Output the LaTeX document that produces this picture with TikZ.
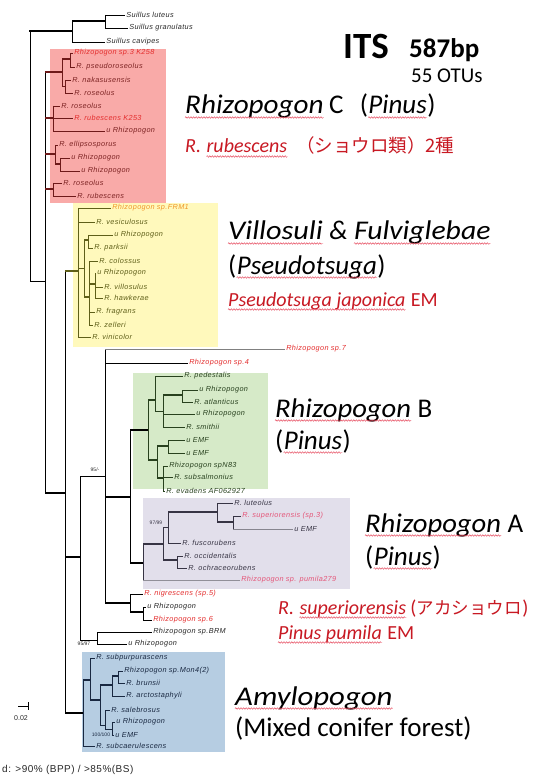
\documentclass[tikz,border=0pt]{standalone}
\usepackage{fontspec}
\usepackage{graphicx}
\setmainfont{Carlito}
\setsansfont{Liberation Sans}
\newfontfamily\jpfont{Noto Sans CJK JP}
\newfontfamily\leaffamily{Liberation Sans}[LetterSpace=5]
\usetikzlibrary{calc,decorations.pathmorphing}
\definecolor{pkfill}{RGB}{249,170,168}
\definecolor{ylfill}{RGB}{255,249,188}
\definecolor{grfill}{RGB}{214,234,200}
\definecolor{lvfill}{RGB}{226,223,235}
\definecolor{blfill}{RGB}{182,205,226}
\definecolor{pkline}{RGB}{110,25,25}
\definecolor{pktext}{RGB}{125,35,35}
\definecolor{redlab}{RGB}{228,45,45}
\definecolor{yline}{RGB}{95,95,25}
\definecolor{orlab}{RGB}{240,150,40}
\definecolor{gline}{RGB}{40,65,30}
\definecolor{aline}{RGB}{55,52,68}
\definecolor{pinklab}{RGB}{228,85,120}
\definecolor{bline}{RGB}{25,40,65}
\definecolor{bigred}{RGB}{200,25,35}
\definecolor{wavered}{RGB}{230,70,90}
\definecolor{darkt}{RGB}{40,40,40}
\newcommand\lfont{\fontsize{7.3}{8}\selectfont\leaffamily\itshape}
\newcommand\leaf[5][]{\draw[br] (#2,#3) -- (#4,#3) node[lab,#1]{#5};}
\newcommand\wave[1]{\draw[wav] ($(#1.base west)+(0,3.5)$) -- ($(#1.base east)+(0,3.5)$);}
\newcommand\wi[2]{\scalebox{#1}[1]{\itshape #2}}
\tikzset{
  br/.style={line width=0.7pt},
  thk/.style={line width=2.8pt},
  lab/.style={font=\lfont, inner sep=1pt, anchor=west},
  sup/.style={font=\fontsize{5}{6}\selectfont\sffamily, inner sep=0.5pt},
  big/.style={font=\fontsize{27}{30}\selectfont, anchor=base west, inner sep=0pt, text=black},
  redl/.style={font=\fontsize{20}{22}\selectfont, anchor=base west, inner sep=0pt, text=bigred},
  wav/.style={draw=wavered, line width=0.45pt, decorate, decoration={snake, amplitude=0.8pt, segment length=2.6pt}},
}
\begin{document}
\begin{tikzpicture}[x=1pt,y=-1pt]
\useasboundingbox (0,0) rectangle (533,775);
\fill[white] (0,0) rectangle (533,775);
% clade boxes
\fill[pkfill] (50,49) rectangle (166,203);
\fill[ylfill] (73,203) rectangle (218,347);
\fill[grfill] (133,373) rectangle (268,489);
\fill[lvfill] (143,498) rectangle (350,589);
\fill[blfill] (82,652) rectangle (225,752);

% root and Suillus
\begin{scope}[draw=black, text=darkt]
\draw[br] (30,31) -- (30,281);
\draw[thk] (29,31) -- (72,31);
\draw[br] (72,21) -- (72,42);
\draw[thk] (72,21) -- (105,21);
\draw[br] (105,15) -- (105,28);
\leaf{105}{15}{125}{Suillus luteus}
\leaf{105}{28}{128}{Suillus granulatus}
\leaf{72}{42}{105}{Suillus cavipes}
\draw[br] (30,281) -- (45,281);
\draw[br] (45,72) -- (45,493);
\draw[thk] (45,493) -- (65,493);
\draw[br] (65,271) -- (65,713);
\draw[thk] (65,557) -- (80,557);
\draw[br] (80,476) -- (80,640);
\draw[br] (80,476) -- (105,476);
\node[sup] at (95,470) {95/-};
\draw[br] (105,349) -- (105,603);
\leaf[text=redlab]{105}{363}{188}{Rhizopogon sp.4}
\draw[br,draw=gray] (105,349) -- (285,349) node[lab,text=redlab]{Rhizopogon sp.7};
\draw[thk] (105,497) -- (130,497);
\draw[br] (130,430) -- (130,563);
\draw[thk] (130,430) -- (148,430);
\draw[thk] (130,563) -- (143,563);
% sp5 clade
\draw[thk] (105,603) -- (130,603);
\draw[br] (130,594) -- (130,612);
\leaf[text=redlab]{130}{594}{143}{R. nigrescens (sp.5)}
\draw[thk] (130,612) -- (143,612);
\draw[br] (143,607) -- (143,620);
\leaf{143}{607}{146}{u Rhizopogon}
\leaf[text=redlab]{143}{620}{152}{Rhizopogon sp.6}
% BRM
\draw[br] (80,640) -- (97,640);
\draw[br] (97,632) -- (97,644);
\leaf{97}{632}{152}{Rhizopogon sp.BRM}
\leaf{97}{644}{127}{u Rhizopogon}
\node[sup] at (84,644) {95/97};
\draw[thk] (65,713) -- (83,713);
\end{scope}

% Rhizopogon C (pink)
\begin{scope}[draw=pkline, text=pktext]
\draw[thk] (45,72) -- (62,72);
\draw[br] (62,59) -- (62,86);
\draw[thk] (62,59) -- (70,59);
\draw[br] (70,53) -- (70,67);
\leaf[text=redlab]{70}{53}{73}{Rhizopogon sp.3 K258}
\leaf{70}{67}{75}{R. pseudoroseolus}
\draw[br] (62,86) -- (65,86);
\draw[br] (65,80) -- (65,93);
\leaf{65}{80}{71}{R. nakasusensis}
\leaf{65}{93}{73}{R. roseolus}
\draw[thk] (45,118) -- (53,118);
\draw[br] (53,106) -- (53,131);
\leaf{53}{106}{60}{R. roseolus}
\leaf[text=redlab]{53}{118}{73}{R. rubescens K253}
\leaf{53}{131}{105}{u Rhizopogon}
\draw[thk] (45,154) -- (55,154);
\draw[br] (55,145) -- (55,164);
\leaf{55}{145}{58}{R. ellipsosporus}
\draw[thk] (55,164) -- (60,164);
\draw[br] (60,158) -- (60,171);
\leaf{60}{158}{70}{u Rhizopogon}
\leaf{60}{171}{80}{u Rhizopogon}
\draw[thk] (45,189) -- (53,189);
\draw[br] (53,183) -- (53,196);
\leaf{53}{183}{62}{R. roseolus}
\leaf{53}{196}{76}{R. rubescens}
\end{scope}

% Villosuli (yellow)
\begin{scope}[draw=yline, text=yline]
\draw[thk] (65,271) -- (78,271);
\draw[br] (78,208) -- (78,337);
\leaf[text=orlab]{78}{208}{111}{Rhizopogon sp.FRM1}
\leaf{78}{222}{95}{R. vesiculosus}
\draw[br] (78,268) -- (84,268);
\draw[br] (84,240) -- (84,297);
\draw[thk] (84,240) -- (88,240);
\draw[br] (88,235) -- (88,248);
\leaf{88}{235}{113}{u Rhizopogon}
\leaf{88}{248}{93}{R. parksii}
\draw[thk] (84,297) -- (89,297);
\draw[br] (89,261) -- (89,325);
\leaf{89}{261}{98}{R. colossus}
\draw[thk] (89,284) -- (95,284);
\draw[br] (95,273) -- (95,298);
\leaf{95}{273}{96}{u Rhizopogon}
\leaf{95}{287}{103}{R. villosulus}
\leaf{95}{298}{103}{R. hawkerae}
\leaf{89}{312}{95}{R. fragrans}
\leaf{89}{325}{93}{R. zelleri}
\leaf{78}{337}{91}{R. vinicolor}
\end{scope}

% Rhizopogon B (green)
\begin{scope}[draw=gline, text=gline]
\draw[br] (148,400) -- (148,460);
\draw[thk] (148,400) -- (155,400);
\draw[br] (155,376) -- (155,411);
\leaf{155}{376}{183}{R. pedestalis}
\draw[br] (155,411) -- (163,411);
\draw[br] (163,395) -- (163,427);
\draw[thk] (163,395) -- (182,395);
\draw[br] (182,390) -- (182,402);
\leaf{182}{390}{198}{u Rhizopogon}
\leaf{182}{402}{193}{R. atlanticus}
\leaf{163}{414}{195}{u Rhizopogon}
\leaf{163}{427}{185}{R. smithii}
\draw[thk] (148,460) -- (157,460);
\draw[br] (157,446) -- (157,478);
\draw[thk] (157,446) -- (168,446);
\draw[br] (168,440) -- (168,453);
\leaf{168}{440}{185}{u EMF}
\leaf{168}{453}{185}{u EMF}
\draw[thk] (157,478) -- (163,478);
\draw[br] (163,466) -- (163,491);
\leaf{163}{466}{168}{Rhizopogon spN83}
\leaf{163}{477}{173}{R. subsalmonius}
\leaf{163}{491}{165}{R. evadens AF062927}
\end{scope}

% Rhizopogon A (lavender)
\begin{scope}[draw=aline, text=aline]
\draw[br] (143,544) -- (143,580);
\draw[thk] (143,544) -- (163,544);
\draw[br] (163,527) -- (163,560);
\draw[br] (163,527) -- (168,527);
\draw[br] (168,512) -- (168,543);
\node[sup] at (156,523) {97/99};
\draw[thk] (168,512) -- (217,512);
\draw[br] (217,503) -- (217,522);
\leaf{217}{503}{233}{R. luteolus}
\draw[thk] (217,522) -- (233,522);
\draw[br] (233,516) -- (233,529);
\leaf[text=pinklab]{233}{516}{241}{R. superiorensis (sp.3)}
\draw[br,draw=aline!60] (233,529) -- (293,529) node[lab]{u EMF};
\leaf{168}{543}{181}{R. fuscorubens}
\draw[thk] (163,560) -- (177,560);
\draw[br] (177,556) -- (177,568);
\leaf{177}{556}{183}{R. occidentalis}
\leaf{177}{568}{187}{R. ochraceorubens}
\draw[br,draw=aline!55] (143,580) -- (240,580) node[lab,text=pinklab]{Rhizopogon sp. pumila279};
\end{scope}

% Amylopogon (blue)
\begin{scope}[draw=bline, text=bline]
\draw[br] (83,680) -- (83,746);
\draw[thk] (83,680) -- (90,680);
\draw[br] (90,658) -- (90,700);
\leaf{90}{658}{95}{R. subpurpurascens}
\draw[thk] (90,700) -- (100,700);
\draw[br] (100,685) -- (100,725);
\draw[thk] (100,685) -- (112,685);
\draw[br] (112,676) -- (112,696);
\draw[thk] (112,676) -- (118,676);
\draw[br] (118,671) -- (118,683);
\leaf{118}{671}{123}{Rhizopogon sp.Mon4(2)}
\leaf{118}{683}{125}{R. brunsii}
\leaf{112}{696}{125}{R. arctostaphyli}
\draw[br] (100,725) -- (105,725);
\draw[br] (105,710) -- (105,729);
\leaf{105}{710}{110}{R. salebrosus}
\draw[br] (105,729) -- (112,729);
\draw[br] (112,722) -- (112,735);
\leaf{112}{722}{115}{u Rhizopogon}
\leaf{112}{735}{114}{u EMF}
\node[sup] at (101,735) {100/100};
\leaf{83}{746}{95}{R. subcaerulescens}
\end{scope}

% scale bar and legend
\draw[br] (18,706) -- (28,706);
\draw[br] (28,702) -- (28,710);
\node[font=\fontsize{7}{8}\selectfont\sffamily, anchor=east, inner sep=0pt, text=darkt] (sc) at (28,718) {0.02};
\node[font=\fontsize{10}{11}\selectfont\leaffamily, anchor=west, inner sep=0pt, text=darkt] (lg) at (2,770) {d: >90\% (BPP) / >85\%(BS)};

% titles
\node[anchor=base west, inner sep=0pt, font=\bfseries\fontsize{37}{38}\selectfont] (its) at (343,59) {ITS};
\node[anchor=base west, inner sep=0pt, font=\bfseries\fontsize{27}{28}\selectfont] (bp) at (409,58) {587bp};
\node[anchor=base west, inner sep=0pt, font=\fontsize{21}{22}\selectfont] (otu) at (411,83) {55 OTUs};

% Rhizopogon C
\node[big] (c1) at (185,114) {\wi{1.08}{Rhizopogon}};
\node[big] (c2) at ($(c1.base east)+(5,0)$) {C};
\node[big] (c3) at ($(c2.base east)+(16,0)$) {(};
\node[big] (c4) at (c3.base east) {\itshape Pinus};
\node[big] (c5) at (c4.base east) {)};
\wave{c1}\wave{c4}
\node[redl] (r1) at (185,153) {\itshape R.};
\node[redl] (r2) at ($(r1.base east)+(5,0)$) {\itshape rubescens};
\node[redl, font=\fontsize{18.5}{20}\selectfont\jpfont] (r3) at (296,153) {（ショウロ類）2種};
\wave{r2}
% Villosuli
\node[big] (v1) at (228,240) {\wi{1.12}{Villosuli}};
\node[big] (v2) at ($(v1.base east)+(6,0)$) {\itshape \&};
\node[big] (v3) at ($(v2.base east)+(6,0)$) {\wi{1.1}{Fulviglebae}};
\wave{v1}\wave{v3}
\node[big] (v4) at (228,274) {(};
\node[big] (v5) at (v4.base east) {\itshape Pseudotsuga};
\node[big] (v6) at (v5.base east) {)};
\wave{v5}
\node[redl] (v7) at (228,306) {\itshape Pseudotsuga japonica};
\node[redl] (v8) at ($(v7.base east)+(5,0)$) {EM};
\wave{v7}
% Rhizopogon B
\node[big] (b1) at (275,417) {\wi{1.06}{Rhizopogon}};
\node[big] (b2) at ($(b1.base east)+(6,0)$) {B};
\wave{b1}
\node[big] (b3) at (275,449) {(};
\node[big] (b4) at (b3.base east) {\itshape Pinus};
\node[big] (b5) at (b4.base east) {)};
\wave{b4}
% Rhizopogon A
\node[big] (a1) at (365,532) {\wi{1.06}{Rhizopogon}};
\node[big] (a2) at ($(a1.base east)+(6,0)$) {A};
\wave{a1}
\node[big] (a3) at (365,565) {(};
\node[big] (a4) at (a3.base east) {\itshape Pinus};
\node[big] (a5) at (a4.base east) {)};
\wave{a4}
\node[redl] (s1) at (278,614) {\itshape R.};
\node[redl] (s2) at ($(s1.base east)+(5,0)$) {\itshape superiorensis};
\node[redl] (s3) at ($(s2.base east)+(4,0)$) {(};
\node[redl, font=\fontsize{17.5}{20}\selectfont\jpfont] (s4j) at (s3.base east) {アカショウロ};
\node[redl] (s5) at (s4j.base east) {)};
\wave{s2}
\node[redl] (s6) at (278,639) {\itshape Pinus pumila};
\node[redl] (s7) at ($(s6.base east)+(5,0)$) {EM};
\wave{s6}
% Amylopogon
\node[big] (m1) at (235,705) {\wi{1.14}{Amylopogon}};
\wave{m1}
\node[big] (m2) at (235,736) {(Mixed conifer forest)};
\end{tikzpicture}
\end{document}
